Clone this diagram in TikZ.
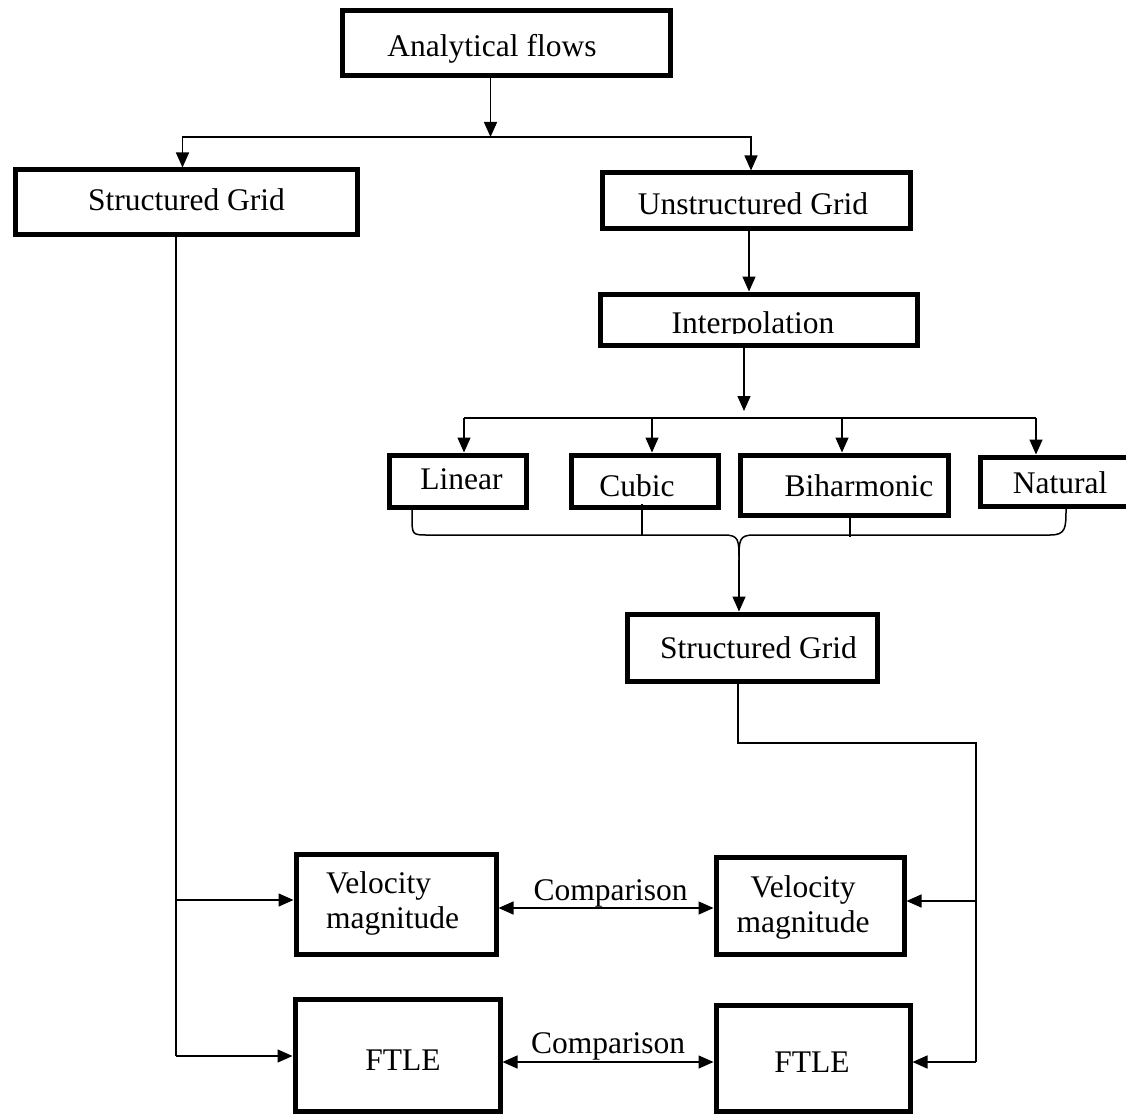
\documentclass[tikz,border=0pt]{standalone}
\usepackage{fontspec}
\setmainfont{Liberation Serif}
\usetikzlibrary{arrows.meta,calc}
\begin{document}
\begin{tikzpicture}[x=1pt,y=-1pt,
  box/.style={draw, line width=5pt, inner sep=0pt},
  lbl/.style={inner sep=0pt, font=\fontsize{31.5}{37}\selectfont},
  conn/.style={line width=1.5pt},
  arr/.style={conn, -{Triangle[length=15pt,width=13pt]}},
  darr/.style={conn, {Triangle[length=15pt,width=13pt]}-{Triangle[length=15pt,width=13pt]}}]
\useasboundingbox (0,0) rectangle (1126,1115);

% boxes
\node[box, minimum width=328pt, minimum height=65pt] (af) at (506,43.5) {};
\node[box, minimum width=342pt, minimum height=65pt] (sg1) at (186,202.5) {};
\node[box, minimum width=308pt, minimum height=56pt] (ug) at (756,201) {};
\node[box, minimum width=317pt, minimum height=51pt] (interp) at (758.5,319.5) {};
\node[box, minimum width=137pt, minimum height=52pt] (lin) at (457.5,481) {};
\node[box, minimum width=147pt, minimum height=52pt] (cub) at (644.5,481) {};
\node[box, minimum width=208pt, minimum height=60pt] (bih) at (844,485) {};
\node[box, minimum width=158pt, minimum height=49pt] (nat) at (1059,481.5) {};
\node[box, minimum width=250pt, minimum height=67pt] (sg2) at (752,647.5) {};
\node[box, minimum width=200pt, minimum height=100pt] (v1) at (396,904) {};
\node[box, minimum width=188pt, minimum height=97pt] (v2) at (810,905.5) {};
\node[box, minimum width=205pt, minimum height=112pt] (f1) at (397.5,1055) {};
\node[box, minimum width=194pt, minimum height=106pt] (f2) at (813,1058) {};

% texts
\node[lbl, anchor=base] (aft) at (492,57) {Analytical flows};
\node[lbl, anchor=base] (sg1t) at (186.5,211) {Structured Grid};
\node[lbl, anchor=base] (ugt) at (753,215) {Unstructured Grid};
\begin{scope}
  \clip (598,290) rectangle (919,333);
  \node[lbl, anchor=base] (interpt) at (753,333) {Interpolation};
\end{scope}
\node[lbl, anchor=base] (lint) at (461.5,489) {Linear};
\node[lbl, anchor=base] (cubt) at (637,496) {Cubic};
\node[lbl, anchor=base] (biht) at (859,496) {Biharmonic};
\node[lbl, anchor=base] (natt) at (1060,493) {Natural};
\node[lbl, anchor=base] (sg2t) at (758.5,658) {Structured Grid};
\node[lbl, anchor=base west] (v1a) at (326,893) {Velocity};
\node[lbl, anchor=base west] (v1b) at (326,928) {magnitude};
\node[lbl, anchor=base] (v2a) at (803,897) {Velocity};
\node[lbl, anchor=base] (v2b) at (803,932) {magnitude};
\node[lbl, anchor=base] (f1t) at (403,1070) {FTLE};
\node[lbl, anchor=base] (f2t) at (812,1072) {FTLE};
\node[lbl, anchor=base] (c1) at (610.5,900) {Comparison};
\node[lbl, anchor=base] (c2) at (608,1053) {Comparison};

% top split
\coordinate (sp) at (490.5,137);
\draw[arr] (af.south -| sp) -- (sp);
\draw[arr] (sp) -| ([xshift=-3.5pt]sg1.north);
\draw[arr] (sp) -| ([xshift=-5pt]ug.north);
\draw[arr] ([xshift=-7pt]ug.south) -- ([xshift=-7pt]ug.south |- interp.north);

% interpolation split
\coordinate (sp2) at (744,418);
\coordinate (sp2t) at (744,411);
\draw[arr] (interp.south -| sp2) -- (sp2t);
\coordinate (b1) at (464,418);
\coordinate (b2) at (652,418);
\coordinate (b3) at (842,418);
\coordinate (b4) at (1036,418);
\draw[conn] (b1) -- (b4);
\draw[arr] (b1) -- (b1 |- lin.north);
\draw[arr] (b2) -- (b2 |- cub.north);
\draw[arr] (b3) -- (b3 |- bih.north);
\draw[arr] (b4) -- (b4 |- nat.north);

% brace
\coordinate (bl) at (412,509);
\coordinate (br) at (1066,508);
\coordinate (cusp) at (739,560);
\draw[conn] (bl) -- (412,516) .. controls (412,535) and (412,535) .. (428,535)
  -- (724,535) .. controls (739,535) and (739,540) .. (cusp);
\draw[conn] (cusp) .. controls (739,540) and (739,535) .. (754,535)
  -- (1050,535) .. controls (1066,535) and (1066,528) .. (br);
\coordinate (cl) at (642,504);
\draw[conn] (cl) -- (642,535);
\coordinate (bhl) at (850,514);
\draw[conn] (bhl) -- (850,537);
\draw[arr] (cusp) -- (cusp |- sg2.north);

% right side
\coordinate (rt) at (976,743);
\coordinate (rv) at (976,901);
\coordinate (rf) at (976,1062);
\draw[conn] ([xshift=-14pt]sg2.south) |- (rt) -- (rf);
\draw[arr] (rv) -- (rv -| v2.east);
\draw[arr] (rf) -- (rf -| f2.east);

% left side
\coordinate (lv) at (176,900);
\coordinate (lf) at (176,1056);
\draw[conn] (sg1.south -| lf) -- (lf);
\draw[arr] (lv) -- (lv -| v1.west);
\draw[arr] (lf) -- (lf -| f1.west);

% comparisons
\coordinate (k1) at (0,908);
\coordinate (k2) at (0,1062);
\draw[darr] (v1.east |- k1) -- (v2.west |- k1);
\draw[darr] (f1.east |- k2) -- (f2.west |- k2);
\end{tikzpicture}
\end{document}
